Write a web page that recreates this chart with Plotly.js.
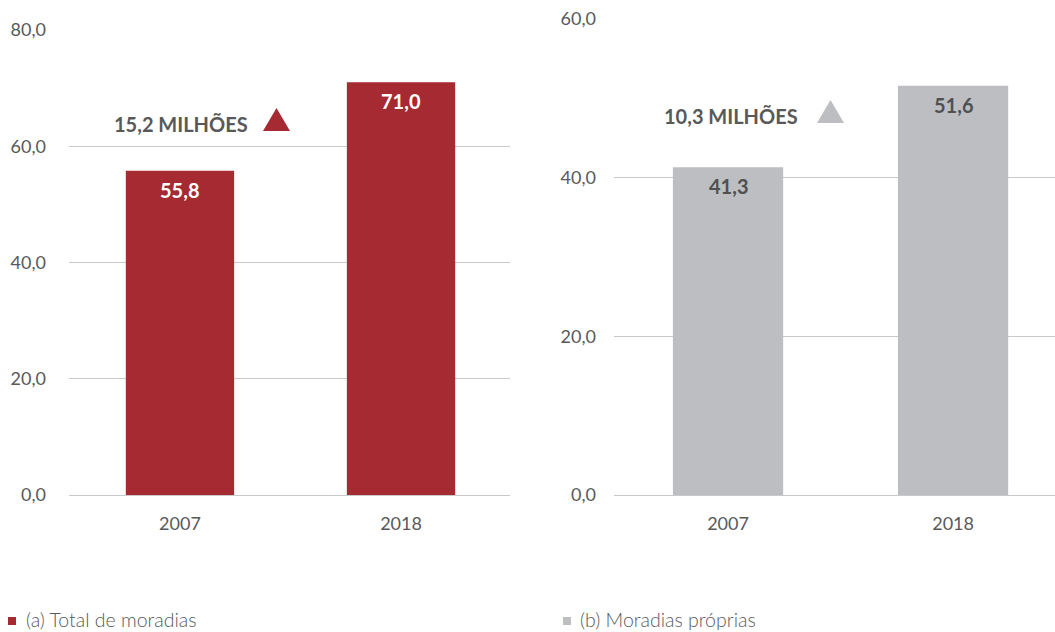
<!DOCTYPE html>
<html><head><meta charset="utf-8">
<script src="https://cdn.plot.ly/plotly-3.0.1.min.js"></script>
<style>html,body{margin:0;padding:0;background:#fff}#chart{width:1055px;height:632px}</style>
</head><body><div id="chart"></div>
<script>
const years = ["2007", "2018"];
const totalMoradias = [55.8, 71.0];
const moradiasProprias = [41.3, 51.6];
const seriesNames = ["(a) Total de moradias", "(b) Moradias próprias"];
const leftTicks = [0, 20, 40, 60, 80];
const rightTicks = [0, 20, 40, 60];

const RED = "#a62a31", GRAY = "#bdbec2", TXT = "#58595b", GRID = "#c9c9c9";
const FONT = "Source Sans Pro, Lato, Open Sans, sans-serif";
const W = 1055, H = 632;
const px = v => v / W, py = v => 1 - v / H;
const fmt = v => v.toFixed(1).replace(".", ",");

const traces = [
  {type: "bar", x: years, y: totalMoradias, marker: {color: RED}, width: 0.49, xaxis: "x", yaxis: "y", hoverinfo: "none", showlegend: false},
  {type: "bar", x: years, y: moradiasProprias, marker: {color: GRAY}, width: 0.49, xaxis: "x2", yaxis: "y2", hoverinfo: "none", showlegend: false}
];

const ann = [];
totalMoradias.forEach((v, i) => ann.push({xref: "x", yref: "y", x: i, y: v, yshift: -19, text: "<b>" + fmt(v) + "</b>", showarrow: false, font: {family: FONT, size: 20, color: "#ffffff", weight: 700}}));
moradiasProprias.forEach((v, i) => ann.push({xref: "x2", yref: "y2", x: i, y: v, yshift: -19, text: "<b>" + fmt(v) + "</b>", showarrow: false, font: {family: FONT, size: 20, color: "#4f5052", weight: 700}}));
ann.push({xref: "paper", yref: "paper", x: px(250), y: py(124), xanchor: "right", yanchor: "middle", showarrow: false,
  text: "<b>" + fmt(totalMoradias[1] - totalMoradias[0]) + " MILHÕES</b>", font: {family: FONT, size: 20, color: TXT}});
ann.push({xref: "paper", yref: "paper", x: px(800), y: py(116), xanchor: "right", yanchor: "middle", showarrow: false,
  text: "<b>" + fmt(moradiasProprias[1] - moradiasProprias[0]) + " MILHÕES</b>", font: {family: FONT, size: 20, color: TXT}});
ann.push({xref: "paper", yref: "paper", x: px(24), y: py(619), xanchor: "left", yanchor: "middle", showarrow: false,
  text: seriesNames[0], font: {family: FONT, size: 19.5, color: TXT, weight: 300}});
ann.push({xref: "paper", yref: "paper", x: px(578), y: py(619), xanchor: "left", yanchor: "middle", showarrow: false,
  text: seriesNames[1], font: {family: FONT, size: 19.5, color: TXT, weight: 300}});

const tri = (x1, x2, yb, yt) => `M ${px(x1)},${py(yb)} L ${px(x2)},${py(yb)} L ${px((x1 + x2) / 2)},${py(yt)} Z`;
const shapes = [
  {type: "path", xref: "paper", yref: "paper", path: tri(263, 290, 131, 108), fillcolor: RED, line: {width: 0}},
  {type: "path", xref: "paper", yref: "paper", path: tri(817, 844, 123, 100), fillcolor: GRAY, line: {width: 0}},
  {type: "rect", xref: "paper", yref: "paper", x0: px(8), x1: px(16), y0: py(625), y1: py(617), fillcolor: RED, line: {width: 0}},
  {type: "rect", xref: "paper", yref: "paper", x0: px(563), x1: px(571), y0: py(625), y1: py(617), fillcolor: GRAY, line: {width: 0}}
];

const axFont = {family: FONT, size: 18, color: TXT, weight: 400};
const yBase = {showgrid: true, gridcolor: GRID, gridwidth: 1, zeroline: true, zerolinecolor: GRID, zerolinewidth: 1,
  showline: false, ticks: "", tickfont: axFont, fixedrange: true};
const xBase = {type: "category", showgrid: false, zeroline: false, showline: false, ticks: "", tickfont: axFont, fixedrange: true, ticklabelstandoff: 16};

const layout = {
  width: W, height: H, margin: {l: 0, r: 0, t: 0, b: 0},
  paper_bgcolor: "#fff", plot_bgcolor: "#fff", showlegend: false,
  font: {family: FONT, color: TXT},
  xaxis: Object.assign({}, xBase, {domain: [px(69), px(510)], range: [-0.502, 1.493], anchor: "y"}),
  yaxis: Object.assign({}, yBase, {domain: [py(495), py(30)], range: [0, 80], tickvals: leftTicks, ticktext: leftTicks.map(fmt), anchor: "x", ticklabelstandoff: 22}),
  xaxis2: Object.assign({}, xBase, {domain: [px(614), 1], range: [-0.5067, 1.453], anchor: "y2"}),
  yaxis2: Object.assign({}, yBase, {domain: [py(495), py(19)], range: [0, 60], tickvals: rightTicks, ticktext: rightTicks.map(fmt), anchor: "x2", ticklabelstandoff: 17}),
  annotations: ann, shapes: shapes
};

Plotly.newPlot("chart", traces, layout, {displayModeBar: false, staticPlot: true});
</script></body></html>
